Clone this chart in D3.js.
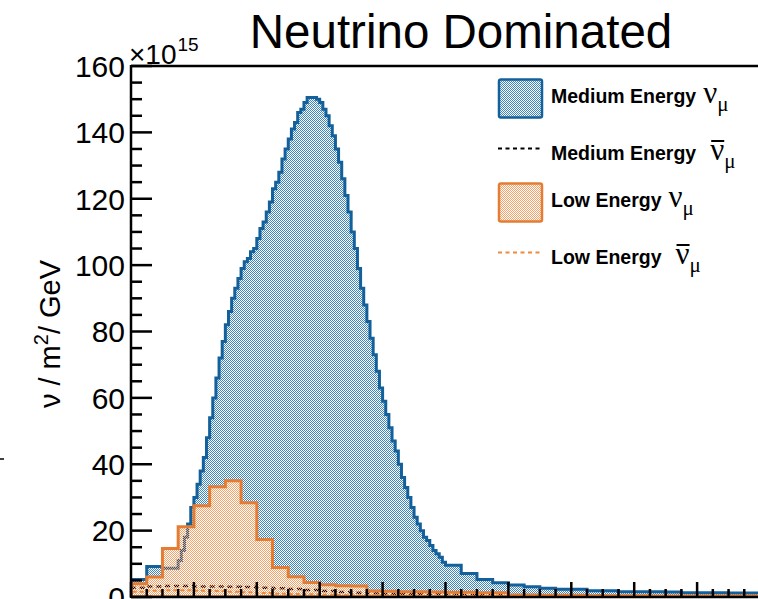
<!DOCTYPE html>
<html>
<head>
<meta charset="utf-8">
<script src="https://d3js.org/d3.v7.min.js"></script>
<style>
  body { margin: 0; background: #fff; }
  svg { display: block; font-family: "Liberation Sans", Arial, sans-serif; }
</style>
</head>
<body>
<svg id="chart" width="758" height="599"></svg>
<script>
// ---- data (flux in units of 1e15 nu / m^2 / GeV) ----
// Medium Energy nu_mu: 0.5 GeV bins below 1.5 GeV, 0.1 GeV bins to 10 GeV, 0.5 GeV bins above
const meNuEdges = [0, 0.5, 1.0]
  .concat(d3.range(15, 100).map(d => d / 10))
  .concat(d3.range(20, 41).map(d => d / 2));
const meNuValues = [
  5.3, 9.2, 8.7,
  11, 14, 18, 22, 27, 30, 34, 38, 42, 48,
  54, 60, 66, 72, 77, 82, 86, 90, 93, 96,
  99, 101, 102, 104, 105, 108, 111, 113, 116, 119,
  123, 125, 128, 132, 135, 138, 141, 143, 146, 147,
  149, 150.5, 150.5, 150.5, 150, 149, 147, 145, 142, 139,
  135, 131, 126, 121, 116, 110, 105, 99, 93, 88,
  83, 78, 73, 68, 63, 59, 55, 51, 47, 44,
  40, 36, 33, 30, 27, 24, 22, 20, 18, 17,
  15.5, 14, 13, 12, 10.5,
  9.6, 7.1, 5.3, 4.3, 3.6, 3.1, 2.6, 2.3, 2.3, 1.9,
  1.9, 1.6, 1.6, 1.6, 1.5, 1.3, 1.3, 1.3, 1.2, 1.2
];

// 0.5 GeV bins for the others
const halfEdges = d3.range(0, 41).map(d => d / 2);
const leNuValues = [
  4.0, 6.0, 14.6, 21.2, 27.5, 33.2, 35.0, 28.4, 17.3, 8.9,
  6.1, 4.4, 3.7, 3.4, 3.3, 1.8, 1.7, 1.6, 1.6, 1.5,
  1.4, 1.4, 1.3, 1.3, 0.6, 0.6, 0.5, 0.5, 0.5, 0.4,
  0.4, 0.4, 0.4, 0.3, 0.3, 0.3, 0.3, 0.3, 0.3, 0.3
];
const meNuBarValues = [
  2.8, 3.2, 3.3, 3.3, 3.2, 3.2, 3.1, 3.0, 2.8, 2.6,
  2.4, 2.1, 1.8, 1.5, 1.3, 1.1, 1.0, 0.9, 0.8, 0.8,
  0.7, 0.6, 0.5, 0.5, 0.4, 0.4, 0.3, 0.3, 0.3, 0.3,
  0.2, 0.2, 0.2, 0.2, 0.2, 0.2, 0.2, 0.2, 0.2, 0.2
];
const leNuBarValues = [
  1.6, 1.9, 2.0, 2.0, 1.9, 1.8, 1.6, 1.4, 1.2, 1.0,
  0.9, 0.8, 0.7, 0.6, 0.5, 0.5, 0.4, 0.4, 0.4, 0.3,
  0.3, 0.3, 0.3, 0.2, 0.2, 0.2, 0.2, 0.2, 0.2, 0.2,
  0.1, 0.1, 0.1, 0.1, 0.1, 0.1, 0.1, 0.1, 0.1, 0.1
];

const yTicks = [0, 20, 40, 60, 80, 100, 120, 140, 160];
const titleText = "Neutrino Dominated";
const legendRows = [
  { label: "Medium Energy", bar: false, kind: "box", color: "#13609a", pat: "patBlue" },
  { label: "Medium Energy", bar: true, kind: "dash", color: "#000000" },
  { label: "Low Energy", bar: false, kind: "box", color: "#e47d33", pat: "patOrange" },
  { label: "Low Energy", bar: true, kind: "dash", color: "#ee8a3c" }
];

// ---- layout ----
const svg = d3.select("#chart");
const pLeft = 131, pRight = 760, pTop = 66, pBottom = 597;

const x = d3.scaleLinear().domain([0, 20]).range([pLeft, pRight]);
const y = d3.scaleLinear().domain([0, 160]).range([pBottom, pTop]);

const defs = svg.append("defs");
function addPattern(id, color, bg) {
  const p = defs.append("pattern").attr("id", id)
    .attr("patternUnits", "userSpaceOnUse").attr("width", 2).attr("height", 2);
  if (bg) p.append("rect").attr("width", 2).attr("height", 2).attr("fill", bg);
  p.append("rect").attr("x", 0).attr("y", 0).attr("width", 1).attr("height", 1).attr("fill", color);
  p.append("rect").attr("x", 1).attr("y", 1).attr("width", 1).attr("height", 1).attr("fill", color);
}
addPattern("patBlue", "#3f87bd", "#ffffff");
addPattern("patOrange", "#f2a26a", null);

defs.append("clipPath").attr("id", "plotClip")
  .append("rect").attr("x", pLeft).attr("y", pTop).attr("width", pRight - pLeft).attr("height", pBottom - pTop);

function stepPath(edges, values, closed) {
  let d = `M${x(edges[0])},${y(0)}`;
  values.forEach((v, i) => {
    d += `L${x(edges[i])},${y(v)}L${x(edges[i + 1])},${y(v)}`;
  });
  d += `L${x(edges[edges.length - 1])},${y(0)}`;
  if (closed) d += "Z";
  return d;
}

const plot = svg.append("g").attr("clip-path", "url(#plotClip)");

plot.append("path").attr("d", stepPath(meNuEdges, meNuValues, true))
  .attr("fill", "url(#patBlue)").attr("stroke", "#13609a").attr("stroke-width", 3);
plot.append("path").attr("d", stepPath(halfEdges, meNuBarValues, false))
  .attr("fill", "none").attr("stroke", "#000").attr("stroke-width", 2.5)
  .attr("stroke-dasharray", "5,4");
plot.append("path").attr("d", stepPath(halfEdges, leNuValues, true))
  .attr("fill", "url(#patOrange)").attr("stroke", "#e47d33").attr("stroke-width", 3);
plot.append("path").attr("d", stepPath(halfEdges, leNuBarValues, false))
  .attr("fill", "none").attr("stroke", "#ee8a3c").attr("stroke-width", 2)
  .attr("stroke-dasharray", "4,3");

// ---- axes (ROOT style, ticks inside) ----
const axes = svg.append("g").attr("stroke", "#000");
axes.append("line").attr("x1", pLeft).attr("x2", pLeft).attr("y1", pTop - 1).attr("y2", pBottom + 1).attr("stroke-width", 2.5);
axes.append("line").attr("x1", pLeft).attr("x2", pRight + 2).attr("y1", pTop).attr("y2", pTop).attr("stroke-width", 2.5);
axes.append("line").attr("x1", pLeft).attr("x2", pRight + 2).attr("y1", pBottom).attr("y2", pBottom).attr("stroke-width", 2.5);

d3.range(0, 161, 5).forEach(v => {
  const major = v % 20 === 0;
  axes.append("line").attr("x1", pLeft).attr("x2", pLeft + (major ? 21 : 11))
    .attr("y1", y(v)).attr("y2", y(v)).attr("stroke-width", 2.5);
});
d3.range(0, 41).forEach(k => {
  const major = k % 4 === 0;
  axes.append("line").attr("x1", x(k / 2)).attr("x2", x(k / 2))
    .attr("y1", pBottom).attr("y2", pBottom - (major ? 15 : 8)).attr("stroke-width", 2.5);
});

svg.append("g").selectAll("text").data(yTicks).join("text")
  .attr("x", 125).attr("y", d => y(d)).attr("dy", "0.36em")
  .attr("text-anchor", "end").attr("font-size", 30).attr("fill", "#000")
  .text(d => d);

// exponent label
const expo = svg.append("text").attr("x", 129).attr("y", 64).attr("font-size", 28).attr("fill", "#000");
expo.append("tspan").text("\u00d710");
expo.append("tspan").attr("dx", 1).attr("dy", -13).attr("font-size", 19).text("15");

// title
svg.append("text").attr("x", 461).attr("y", 48).attr("text-anchor", "middle")
  .attr("font-size", 47.5).attr("fill", "#000").text(titleText);

// y axis title
const yt = svg.append("text").attr("transform", "translate(60,334) rotate(-90)")
  .attr("text-anchor", "middle").attr("font-size", 29).attr("fill", "#000");
yt.append("tspan").text("\u03bd / m");
yt.append("tspan").attr("dy", -12).attr("font-size", 20).text("2");
yt.append("tspan").attr("dy", 12).text("/ GeV");

// stray mark at left edge
svg.append("line").attr("x1", 0).attr("x2", 4).attr("y1", 459).attr("y2", 459)
  .attr("stroke", "#000").attr("stroke-width", 1.5);

// ---- legend ----
const rowBase = [103, 160, 207, 264];
const leg = svg.append("g");
legendRows.forEach((r, i) => {
  const by = rowBase[i];
  if (r.kind === "box") {
    leg.append("rect").attr("x", 499).attr("y", by - 23.5).attr("width", 43).attr("height", 38)
      .attr("rx", 2).attr("fill", `url(#${r.pat})`).attr("stroke", r.color).attr("stroke-width", 2.5);
  } else {
    leg.append("line").attr("x1", 498).attr("x2", 541).attr("y1", by - 11.5).attr("y2", by - 11.5)
      .attr("stroke", r.color).attr("stroke-width", 2).attr("stroke-dasharray", "4,3.5");
  }
  const t = leg.append("text").attr("x", 551).attr("y", by)
    .attr("font-size", 19.5).attr("font-weight", "bold").attr("fill", "#000").text(r.label);
  const w = t.node().getComputedTextLength();
  const nx = 551 + w + (r.bar ? 14 : 7);
  const nu = leg.append("text").attr("x", nx).attr("y", by)
    .attr("font-family", "'Liberation Serif', serif").attr("font-size", 31).attr("fill", "#000").text("\u03bd");
  const nw = nu.node().getComputedTextLength();
  leg.append("text").attr("x", nx + nw).attr("y", by + 8)
    .attr("font-family", "'Liberation Serif', serif").attr("font-size", 21).attr("fill", "#000").text("\u03bc");
  if (r.bar) {
    leg.append("line").attr("x1", nx + 1).attr("x2", nx + nw).attr("y1", by - 19).attr("y2", by - 19)
      .attr("stroke", "#000").attr("stroke-width", 2);
  }
});
</script>
</body>
</html>
